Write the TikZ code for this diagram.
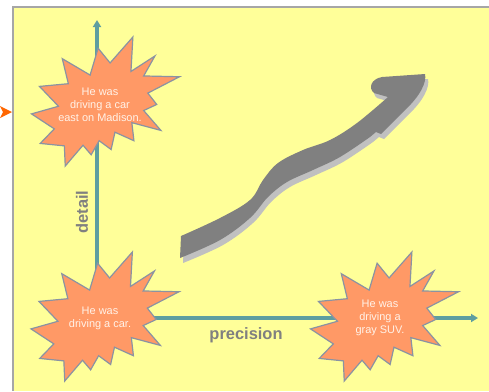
\documentclass[tikz,border=0pt]{standalone}
\usepackage{fontspec}
\setmainfont{Liberation Sans}
\usepackage{xcolor}
\usepackage{tikz}
\usetikzlibrary{arrows.meta}
\definecolor{panelyellow}{HTML}{FFFF99}
\definecolor{panelline}{HTML}{A6A6A6}
\definecolor{burstfill}{HTML}{FF9966}
\definecolor{burstline}{HTML}{8A93A3}
\definecolor{axisteal}{HTML}{5E9EA0}
\definecolor{labelgray}{HTML}{808080}
\definecolor{arrowdark}{HTML}{808080}
\definecolor{arrowshade}{HTML}{C0C0C0}
\definecolor{pointer}{HTML}{FF6600}
\definecolor{bursttext}{HTML}{FFF2E8}

\newcommand{\explosion}[2]{%
  \filldraw[burst,shift={(#1,#2)},x=148bp,y=-129bp]
    (0.531,0.201) -- (0.685,0) -- (0.672,0.267) -- (0.834,0.147) -- (0.758,0.302)
    -- (1,0.308) -- (0.786,0.435) -- (0.846,0.523) -- (0.758,0.570) -- (0.874,0.724)
    -- (0.678,0.664) -- (0.692,0.804) -- (0.564,0.738) -- (0.538,0.872) -- (0.457,0.804)
    -- (0.403,0.913) -- (0.348,0.839) -- (0.228,1) -- (0.222,0.844) -- (0.059,0.825)
    -- (0.154,0.712) -- (0,0.596) -- (0.182,0.537) -- (0.054,0.383) -- (0.249,0.362)
    -- (0.208,0.168) -- (0.396,0.295) -- (0.450,0.087) -- cycle;}

\newcommand{\growth}{%
  plot[smooth,tension=0.6] coordinates {(181,236) (220,218) (250,200) (263,180)
    (278,163) (303,150) (330,140) (357,123) (388,97)}
  -- (374,93) .. controls (368,88) and (371,79) .. (382,77) -- (425,74)
  .. controls (427,82) and (420,96) .. (406,109) -- (381,134) -- (376,132)
  -- plot[smooth,tension=0.6] coordinates {(370,137) (340,157) (313,170)
    (287,182) (268,197) (250,218) (220,240) (180,258)} -- cycle}

\begin{document}
\begin{tikzpicture}[x=1bp,y=-1bp]
    \tikzstyle{burst}=[fill=burstfill,draw=burstline,line width=1.2bp,line join=miter]
    \tikzstyle{bursttxt}=[text=bursttext,align=center,font=\fontsize{11}{13}\selectfont,inner sep=0pt]
    \tikzstyle{axis}=[draw=axisteal,line width=3.5bp,-{Triangle[length=7bp,width=8bp]}]
    \tikzstyle{axislabel}=[text=labelgray,font=\fontsize{16.5}{18}\selectfont\bfseries,inner sep=0pt]
    \useasboundingbox (0,0) rectangle (489,391);
    \fill[white] (0,0) rectangle (489,391);
    \fill[panelyellow] (13,7) rectangle (489,391);
    \draw[panelline,line width=1.5bp] (13,391) -- (13,7) -- (489,7);
    \fill[pointer] (0,106) -- (12,112) -- (0,118) -- (3,112) -- cycle;
    \coordinate (origin) at (97,318);
    \coordinate (ytip) at (97,20);
    \coordinate (xtip) at (478,318);
    \draw[axis] (origin) -- (ytip);
    \draw[axis] (origin) -- (xtip);
    \explosion{31.5}{37}
    \explosion{31}{252}
    \explosion{310.5}{252}
    \fill[arrowshade,shift={(3,5)}] \growth;
    \fill[arrowdark] \growth;
    \node[bursttxt] (madison) at (100,105) {He was\\driving a car\\east on Madison.};
    \node[bursttxt] (car) at (100,318) {He was\\driving a car.};
    \node[bursttxt] (suv) at (380,318) {He was\\driving a\\gray SUV.};
    \node[axislabel,rotate=90] (detail) at (82,212) {detail};
    \node[axislabel] (precision) at (246,335) {precision};
  \end{tikzpicture}
\end{document}
